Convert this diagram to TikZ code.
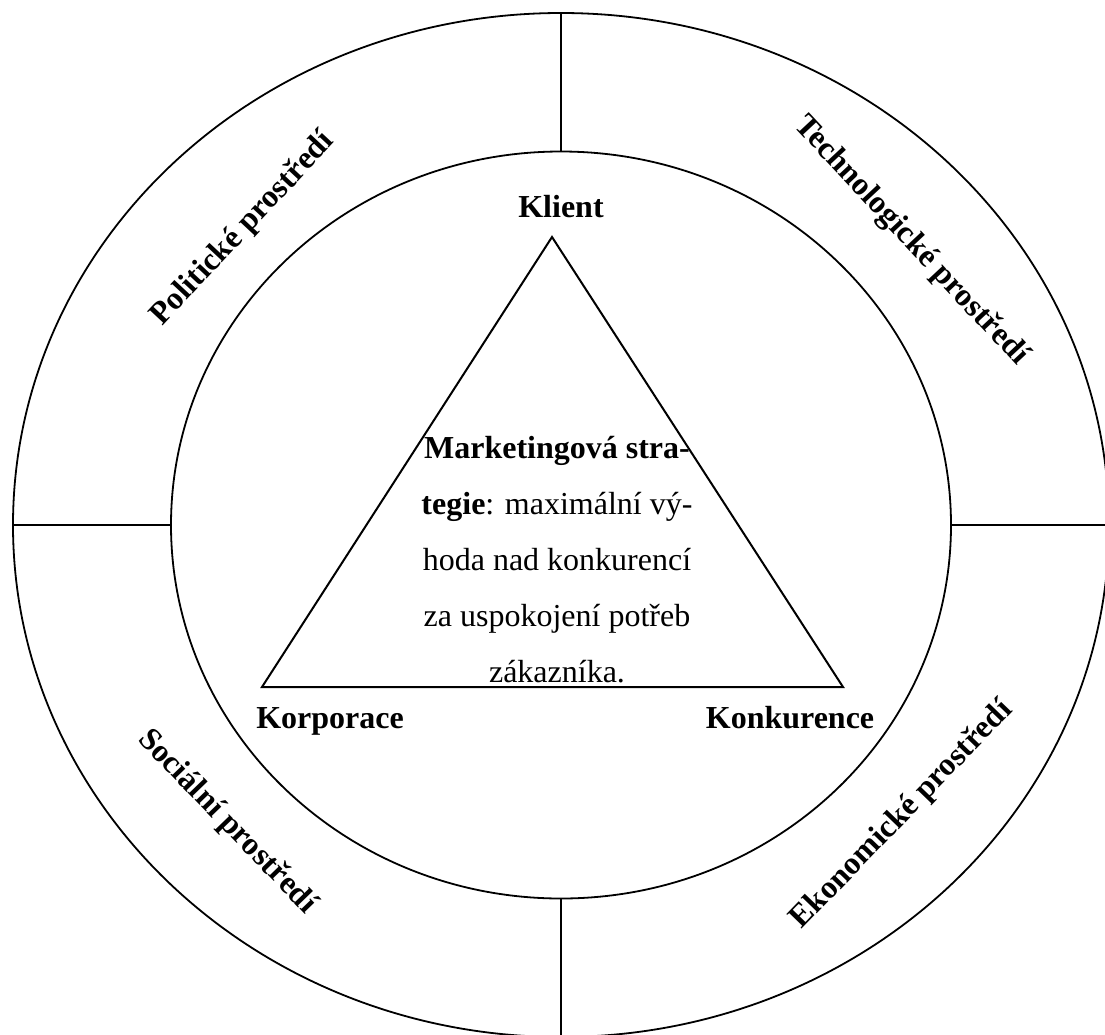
\documentclass[tikz,border=0pt]{standalone}
\usepackage{fontspec}
\setmainfont{Liberation Serif}
\usetikzlibrary{shapes.geometric}
\begin{document}
\begin{tikzpicture}[x=1pt,y=-1pt,
  ring/.style={ellipse,draw,line width=1.8pt,inner sep=0pt,outer sep=0pt},
  divider/.style={line width=2.2pt},
  spoke/.style={line width=1.3pt},
  tri/.style={line width=2pt,line join=miter},
  corner/.style={font=\fontsize{32}{38}\selectfont\bfseries,anchor=base,inner sep=0pt},
  field/.style={font=\fontsize{32}{38}\selectfont\bfseries,inner sep=0pt},
  core/.style={font=\fontsize{32}{56}\selectfont,align=center,anchor=base,inner sep=0pt}]
  \useasboundingbox (0,0) rectangle (1105,1034);
  \clip (0,0) rectangle (1105,1034);

  % environment ring and market circle
  \node[ring,minimum width=1096pt,minimum height=1024pt] (outer) at (561,525) {};
  \node[ring,minimum width=780pt,minimum height=747pt] (inner) at (561,525) {};

  % ring dividers
  \draw[spoke] (outer.north) -- (inner.north);
  \draw[spoke] (inner.south) -- (outer.south);
  \draw[divider] (outer.west) -- (inner.west);
  \draw[divider] (inner.east) -- (outer.east);

  % strategic triangle
  \coordinate (apex) at (552,237);
  \coordinate (left) at (262,687);
  \coordinate (right) at (843,687);
  \draw[tri] (apex) -- (right) -- (left) -- cycle;

  % corner labels
  \node[corner] (klient) at (561,217) {Klient};
  \node[corner] (korporace) at (330,728) {Korporace};
  \node[corner] (konkurence) at (790,728) {Konkurence};

  % centre text (base anchor sits on the last line)
  \node[core] (strategie) at (557,682)
    {\textbf{Marketingová stra-}\\\textbf{tegie}: maximální vý-\\hoda nad konkurencí\\za uspokojení potřeb\\zákazníka.};

  % environment labels
  \node[field,rotate=47] (politicke) at (243,229) {Politické prostředí};
  \node[field,rotate=-47] (technologicke) at (911,241) {Technologické prostředí};
  \node[field,rotate=-46] (socialni) at (227,822) {Sociální prostředí};
  \node[field,rotate=46] (ekonomicke) at (902,815) {Ekonomické prostředí};
\end{tikzpicture}
\end{document}
